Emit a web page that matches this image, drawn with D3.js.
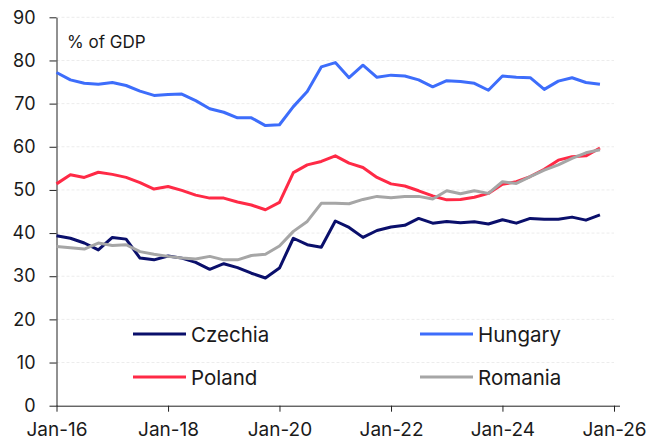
<!DOCTYPE html>
<html><head><meta charset="utf-8">
<script src="https://cdn.jsdelivr.net/npm/d3@7"></script>
<style>
html,body{margin:0;padding:0;background:#fff;}
svg text{font-family:Inter,"Noto Sans",sans-serif;fill:#1a1a1a;}
</style></head>
<body><svg id="c" width="666" height="448"></svg>
<script>
const czechia = [39.4,38.8,37.7,36.1,39.0,38.6,34.2,33.8,34.7,34.2,33.2,31.6,32.9,32.0,30.7,29.6,31.9,38.8,37.3,36.7,42.8,41.3,39.0,40.6,41.4,41.8,43.4,42.3,42.7,42.4,42.6,42.1,43.1,42.3,43.4,43.2,43.2,43.7,43.0,44.2];
const hungary = [77.2,75.5,74.7,74.5,74.9,74.2,72.9,71.9,72.1,72.2,70.7,68.8,68.0,66.7,66.7,64.9,65.1,69.3,72.8,78.5,79.5,76.0,78.9,76.1,76.6,76.4,75.5,73.9,75.3,75.1,74.7,73.1,76.4,76.1,76.0,73.3,75.2,76.0,74.9,74.5];
const poland = [51.4,53.5,52.9,54.1,53.6,52.9,51.7,50.2,50.8,49.9,48.8,48.1,48.1,47.2,46.5,45.4,47.1,54.0,55.8,56.6,57.9,56.2,55.2,52.9,51.4,50.9,49.8,48.6,47.7,47.8,48.3,49.2,51.3,51.9,53.1,54.8,56.9,57.7,57.9,59.7];
const romania = [36.9,36.6,36.3,37.7,37.1,37.3,35.7,35.1,34.6,34.2,34.0,34.6,33.8,33.8,34.8,35.1,37.0,40.4,42.7,46.9,46.9,46.8,47.8,48.5,48.2,48.5,48.5,47.9,49.8,49.1,49.8,49.2,51.9,51.5,53.1,54.6,55.8,57.3,58.6,59.3];
const seriesNames = ["Czechia","Hungary","Poland","Romania"];
const seriesColors = ["#0a0f6b","#3d6dfb","#ff2a46","#a6a6a6"];
const yTicks = [0,10,20,30,40,50,60,70,80,90];
const xTickYears = [2016,2018,2020,2022,2024,2026];
const startDate = new Date(2016,0,1);

const dates = czechia.map((_,i)=>d3.timeMonth.offset(startDate, i*3));
const allSeries = [czechia,hungary,poland,romania];

const svg = d3.select("#c");
const L=56.5, R=614, T=17.3, B=405.7;
const x = d3.scaleTime().domain([new Date(2016,0,1), new Date(2026,0,1)]).range([L,R]);
const y = d3.scaleLinear().domain([0,90]).range([B,T]);

// gridlines
svg.append("g").selectAll("line").data(yTicks.filter(v=>v>0)).join("line")
  .attr("x1",L).attr("x2",R).attr("y1",d=>y(d)).attr("y2",d=>y(d))
  .attr("stroke","#ececec").attr("stroke-width",1).attr("stroke-dasharray","3,2");

// y axis
const ya = svg.append("g").attr("transform",`translate(${L},0)`)
  .call(d3.axisLeft(y).tickValues(yTicks).tickSize(7).tickSizeOuter(0).tickPadding(14));
ya.select(".domain").attr("stroke","#222").attr("stroke-width",1);
ya.selectAll(".tick line").attr("stroke","#222");
ya.selectAll("text").style("font-size","18px").attr("fill","#1a1a1a");

// x axis
const xa = svg.append("g").attr("transform",`translate(0,${B})`)
  .call(d3.axisBottom(x).tickValues(xTickYears.map(yr=>new Date(yr,0,1))).tickFormat(d3.timeFormat("%b-%y")).tickSize(6).tickSizeOuter(0).tickPadding(11));
xa.select(".domain").remove();
xa.append("line").attr("x1",L).attr("x2",R+6).attr("y1",0.5).attr("y2",0.5).attr("stroke","#222");
xa.selectAll(".tick line").attr("stroke","#222");
xa.selectAll("text").style("font-size","19px").attr("fill","#1a1a1a");

// lines
const line = d3.line().x((d,i)=>x(dates[i])).y(d=>y(d));
allSeries.forEach((s,k)=>{
  svg.append("path").datum(s).attr("d",line).attr("fill","none")
    .attr("stroke",seriesColors[k]).attr("stroke-width",3).attr("stroke-linejoin","round");
});

// unit label
svg.append("text").attr("x",67).attr("y",48).style("font-size","17px").text("% of GDP");

// legend
const legPos = [[133,334],[420,334],[133,377],[420,377]];
seriesNames.forEach((n,k)=>{
  const [lx,ly]=legPos[k];
  svg.append("line").attr("x1",lx).attr("x2",lx+53).attr("y1",ly).attr("y2",ly)
    .attr("stroke",seriesColors[k]).attr("stroke-width",3);
  svg.append("text").attr("x",lx+58).attr("y",ly+7.5).style("font-size","20.5px").text(n);
});
</script></body></html>
